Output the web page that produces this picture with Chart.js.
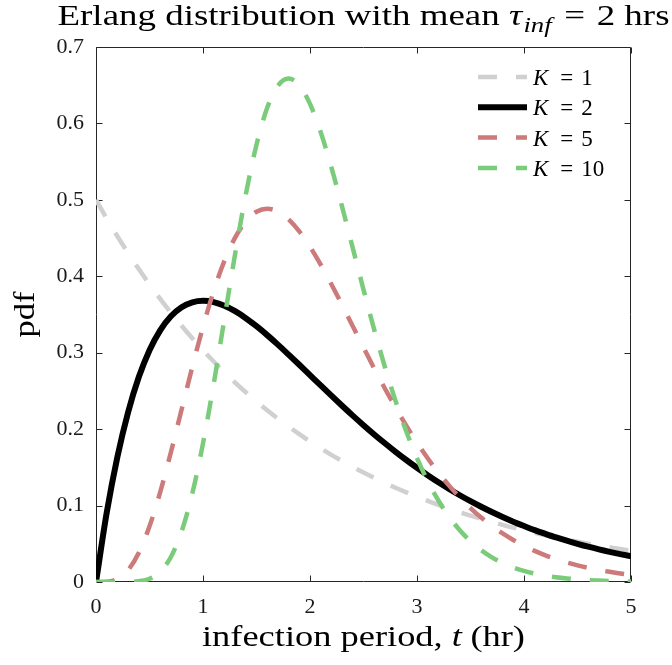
<!DOCTYPE html>
<html>
<head>
<meta charset="utf-8">
<script src="https://cdn.jsdelivr.net/npm/chart.js@4.4.1/dist/chart.umd.min.js"></script>
<style>
  html, body { margin: 0; padding: 0; background: #fff; }
  #wrap { width: 672px; height: 665px; }
</style>
</head>
<body>
<div id="wrap"><canvas id="chart" width="672" height="665"></canvas></div>
<script>
// infection period grid (hr)
const tHr = [0,0.1,0.2,0.3,0.4,0.5,0.6,0.7,0.8,0.9,1,1.1,1.2,1.3,1.4,1.5,1.6,1.7,1.8,1.9,2,
  2.1,2.2,2.3,2.4,2.5,2.6,2.7,2.8,2.9,3,3.1,3.2,3.3,3.4,3.5,3.6,3.7,3.8,3.9,4,
  4.1,4.2,4.3,4.4,4.5,4.6,4.7,4.8,4.9,5];

// pdf for each shape K (mean 2 hrs)
const pdfK1 = [0.5000,0.4756,0.4524,0.4304,0.4094,0.3894,0.3704,0.3523,0.3352,0.3188,0.3033,
  0.2885,0.2744,0.2610,0.2483,0.2362,0.2247,0.2137,0.2033,0.1934,0.1839,
  0.1750,0.1664,0.1583,0.1506,0.1433,0.1363,0.1296,0.1233,0.1173,0.1116,
  0.1061,0.1009,0.0960,0.0913,0.0869,0.0826,0.0786,0.0748,0.0711,0.0677,
  0.0644,0.0612,0.0582,0.0554,0.0527,0.0501,0.0477,0.0454,0.0431,0.0410];
const pdfK2 = [0,0.0905,0.1637,0.2222,0.2681,0.3033,0.3293,0.3476,0.3595,0.3659,0.3679,
  0.3662,0.3614,0.3543,0.3452,0.3347,0.3230,0.3106,0.2975,0.2842,0.2707,
  0.2572,0.2438,0.2306,0.2177,0.2052,0.1931,0.1815,0.1703,0.1596,0.1494,
  0.1397,0.1304,0.1217,0.1135,0.1057,0.0984,0.0915,0.0850,0.0789,0.0733,
  0.0679,0.0630,0.0583,0.0540,0.0500,0.0462,0.0427,0.0395,0.0365,0.0337];
const pdfK5 = [0,0.0003,0.0039,0.0156,0.0383,0.0729,0.1177,0.1698,0.2256,0.2814,0.3340,
  0.3808,0.4201,0.4506,0.4720,0.4845,0.4884,0.4848,0.4745,0.4588,0.4387,
  0.4153,0.3895,0.3624,0.3346,0.3068,0.2795,0.2532,0.2281,0.2044,0.1823,
  0.1619,0.1431,0.1261,0.1106,0.0968,0.0843,0.0733,0.0635,0.0549,0.0473,
  0.0407,0.0349,0.0298,0.0255,0.0217,0.0185,0.0157,0.0133,0.0112,0.0095];
const pdfK10 = [0,0,0,0.0001,0.0010,0.0043,0.0135,0.0328,0.0662,0.1158,0.1813,
  0.2593,0.3442,0.4290,0.5070,0.5722,0.6204,0.6493,0.6588,0.6500,0.6255,
  0.5886,0.5426,0.4910,0.4368,0.3826,0.3302,0.2813,0.2367,0.1969,0.1620,
  0.1320,0.1066,0.0853,0.0677,0.0533,0.0417,0.0323,0.0249,0.0191,0.0145,
  0.0110,0.0083,0.0062,0.0046,0.0034,0.0025,0.0019,0.0014,0.0010,0.0007];

const shapeK = ['1', '2', '5', '10'];
const xTicks = [0, 1, 2, 3, 4, 5];
const yTicks = [0, 0.1, 0.2, 0.3, 0.4, 0.5, 0.6, 0.7];

const SERIF = '"Liberation Serif", "DejaVu Serif", serif';
const INK = '#1a1a1a';
const DASH = [19, 19];

const pts = ys => tHr.map((t, i) => ({ x: t, y: ys[i] }));

function runsWidth(ctx, runs) {
  let w = 0;
  runs.forEach(r => { ctx.font = r.font; w += ctx.measureText(r.text).width + (r.gap || 0); });
  return w;
}
// draw a row of text pieces with their own fonts, centred on cx and
// widened horizontally to span `width` px
function drawRuns(ctx, runs, cx, y, width) {
  const w = runsWidth(ctx, runs);
  const sx = width ? width / w : 1;
  ctx.save();
  ctx.translate(cx - (w * sx) / 2, y);
  ctx.scale(sx, 1);
  let x = 0;
  runs.forEach(r => {
    ctx.font = r.font;
    ctx.fillText(r.text, x, r.dy || 0);
    x += ctx.measureText(r.text).width + (r.gap || 0);
  });
  ctx.restore();
}

// axes box with inward ticks on all four sides
const frame = {
  id: 'frame',
  beforeDatasetsDraw(chart) {
    const { ctx, chartArea: a, scales: { x, y } } = chart;
    const L = Math.round(a.left) + 0.5, R = Math.round(a.right) - 0.5;
    const T = Math.round(a.top) + 0.5, B = Math.round(a.bottom) - 0.5;
    ctx.save();
    ctx.strokeStyle = '#262626';
    ctx.lineWidth = 1;
    ctx.beginPath();
    ctx.rect(L, T, R - L, B - T);
    xTicks.forEach(v => {
      const px = Math.round(x.getPixelForValue(v)) + 0.5;
      ctx.moveTo(px, B); ctx.lineTo(px, B - 6);
      ctx.moveTo(px, T); ctx.lineTo(px, T + 6);
    });
    yTicks.forEach(v => {
      const py = Math.round(y.getPixelForValue(v)) + 0.5;
      ctx.moveTo(L, py); ctx.lineTo(L + 6, py);
      ctx.moveTo(R, py); ctx.lineTo(R - 6, py);
    });
    ctx.stroke();
    ctx.restore();
  }
};

// title, axis titles and legend
const labels = {
  id: 'labels',
  afterDraw(chart) {
    const { ctx, chartArea: a } = chart;
    const cx = (a.left + a.right) / 2;
    ctx.save();
    ctx.fillStyle = '#000';
    ctx.textBaseline = 'alphabetic';
    ctx.textAlign = 'left';

    drawRuns(ctx, [
      { text: 'Erlang distribution with mean ', font: `29px ${SERIF}` },
      { text: 'τ', font: `italic 29px ${SERIF}`, gap: 1 },
      { text: 'inf', font: `italic 21px ${SERIF}`, dy: 7, gap: 10 },
      { text: '=', font: `29px ${SERIF}`, gap: 9 },
      { text: '2 hrs', font: `29px ${SERIF}` }
    ], cx, 25, 612);

    drawRuns(ctx, [
      { text: 'infection period, ', font: `30px ${SERIF}` },
      { text: 't', font: `italic 30px ${SERIF}`, gap: 7 },
      { text: '(hr)', font: `30px ${SERIF}` }
    ], cx, 646, 323);

    ctx.save();
    ctx.translate(34, (a.top + a.bottom) / 2);
    ctx.rotate(-Math.PI / 2);
    drawRuns(ctx, [{ text: 'pdf', font: `30px ${SERIF}` }], 0, 0, 46);
    ctx.restore();

    // legend rows
    chart.data.datasets.forEach((ds, i) => {
      const yRow = 77 + i * 30.3;
      ctx.save();
      ctx.strokeStyle = ds.borderColor;
      ctx.lineWidth = ds.borderWidth;
      ctx.setLineDash(ds.borderDash || []);
      ctx.beginPath();
      ctx.moveTo(478, yRow);
      ctx.lineTo(527, yRow);
      ctx.stroke();
      ctx.restore();
      const row = [
        { text: 'K', font: `italic 23px ${SERIF}`, gap: 12 },
        { text: '=', font: `23px ${SERIF}`, gap: 8 },
        { text: shapeK[i], font: `23px ${SERIF}` }
      ];
      const w = runsWidth(ctx, row);
      drawRuns(ctx, row, 533 + w / 2, yRow + 8);
    });
    ctx.restore();
  }
};

const line = (ys, color, width, dash, order) => ({
  data: pts(ys),
  borderColor: color,
  borderWidth: width,
  borderDash: dash,
  pointRadius: 0,
  fill: false,
  cubicInterpolationMode: 'monotone',
  order: order
});

new Chart(document.getElementById('chart'), {
  type: 'line',
  data: {
    datasets: [
      line(pdfK1, 'rgb(208,208,208)', 4.5, DASH, 4),
      line(pdfK2, '#000000', 6, [], 3),
      line(pdfK5, 'rgb(204,122,122)', 4.5, DASH, 2),
      line(pdfK10, 'rgb(122,204,122)', 4.5, DASH, 1)
    ]
  },
  options: {
    responsive: false,
    animation: false,
    layout: { padding: { top: 47, right: 41, left: 0, bottom: 0 } },
    plugins: { legend: { display: false }, tooltip: { enabled: false }, title: { display: false } },
    scales: {
      x: {
        type: 'linear', min: 0, max: 5,
        afterBuildTicks: s => { s.ticks = xTicks.map(v => ({ value: v })); },
        afterFit: s => { s.height = 83; },
        grid: { display: false, drawTicks: false },
        border: { display: false },
        ticks: { color: INK, padding: 12, font: { family: SERIF, size: 22 }, maxRotation: 0 }
      },
      y: {
        type: 'linear', min: 0, max: 0.7,
        afterBuildTicks: s => { s.ticks = yTicks.map(v => ({ value: v })); },
        afterFit: s => { s.width = 96; },
        grid: { display: false, drawTicks: false },
        border: { display: false },
        ticks: { color: INK, padding: 12, font: { family: SERIF, size: 22 }, callback: v => String(+v.toFixed(1)) }
      }
    }
  },
  plugins: [frame, labels]
});
</script>
</body>
</html>
